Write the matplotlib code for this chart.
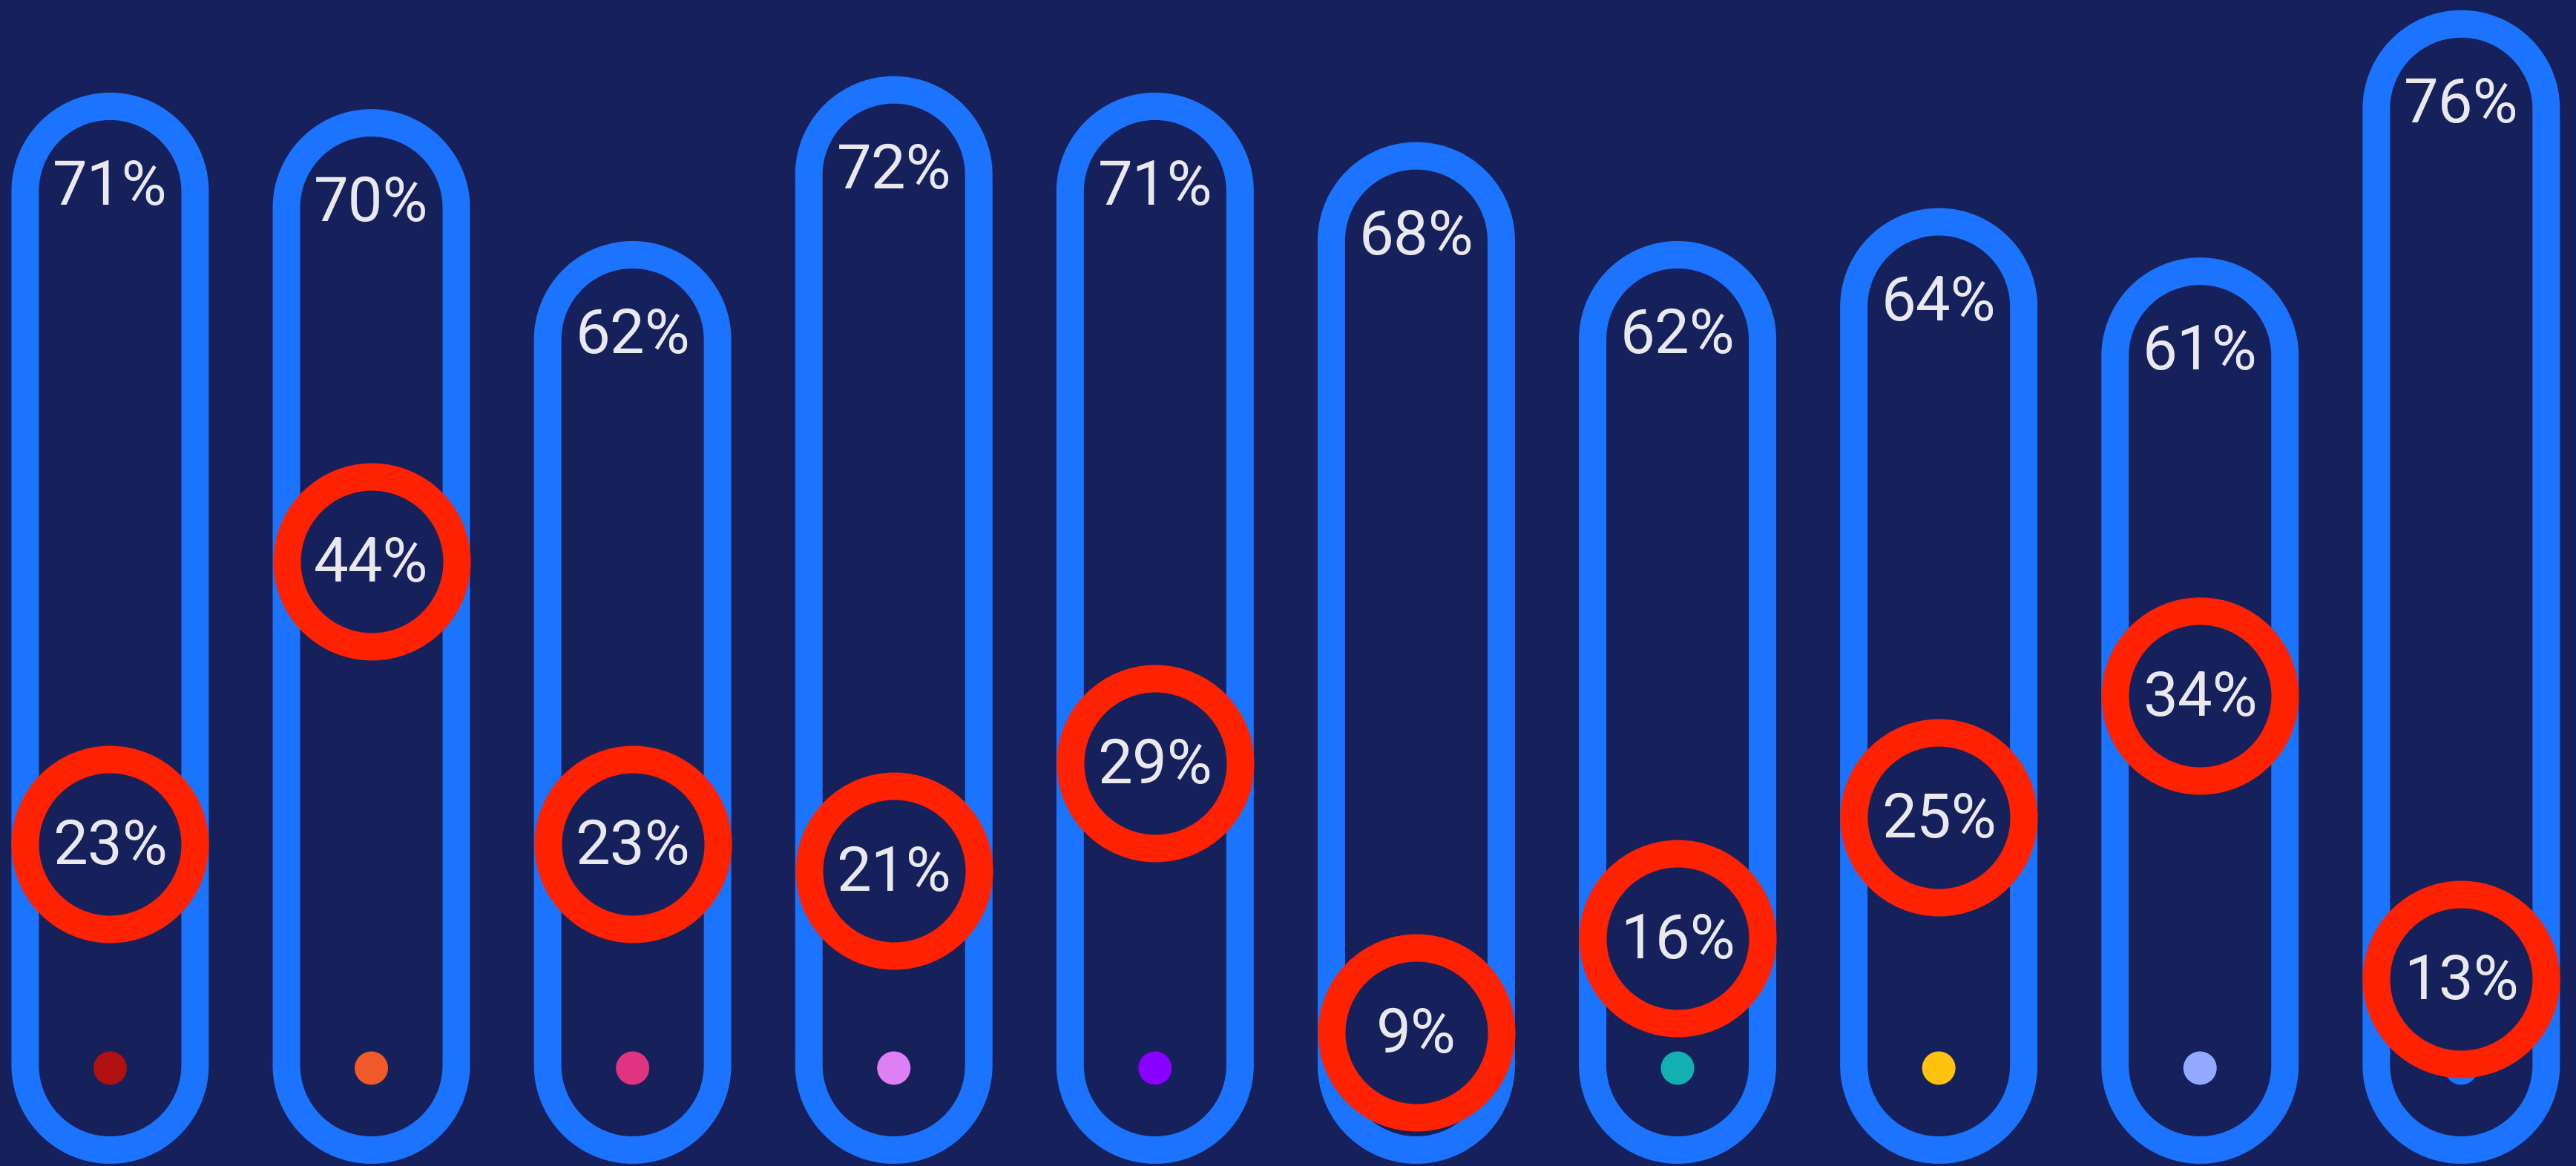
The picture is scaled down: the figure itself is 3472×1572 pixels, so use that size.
import matplotlib
matplotlib.use("Agg")
import matplotlib.pyplot as plt
from matplotlib.path import Path
from matplotlib.patches import PathPatch
import numpy as np

# ---- data ----
top_values = [71, 70, 62, 72, 71, 68, 62, 64, 61, 76]
marker_values = [23, 44, 23, 21, 29, 9, 16, 25, 34, 13]
dot_colors = ["#B01010", "#F05A28", "#E03482", "#DD7FF5", "#8800FF",
              "#2E9E5B", "#12B0B0", "#FFC30F", "#93A8FF", "#1E74FD"]

# ---- style ----
BG = "#16205A"
BLUE = "#1C73FE"
RED = "#FF2200"
TXT = "#E8E8EE"
FONT = "Roboto"

W, H = 3472, 1572
DPI = 100
PT = 72.0 / DPI  # points per pixel

fig = plt.figure(figsize=(W / DPI, H / DPI), dpi=DPI, facecolor=BG)
ax = fig.add_axes([0, 0, 1, 1])
ax.set_xlim(-0.4215, 9.4392)
ax.set_ylim(6.74, 77.45)
ax2 = ax.twinx()
ax2.set_ylim(-0.903, 85.66)
for a in (ax, ax2):
    a.axis("off")

xl = ax.get_xlim()
yl = ax.get_ylim()
ux = W / (xl[1] - xl[0])
uy = H / (yl[1] - yl[0])

R_px = 114.5          # centerline radius of pills / rings
LW_px = 37            # stroke width
rx = R_px / ux
ry = R_px / uy
base_c = yl[0] + 136 / uy   # centre of the bottom arc
dot_y = yl[0] + 132 / uy

idx = np.arange(len(top_values))

for i, v in zip(idx, top_values):
    yt = v - ry
    verts = [(i - rx, base_c), (i - rx, yt)]
    for t in np.linspace(np.pi, 0, 90):
        verts.append((i + rx * np.cos(t), yt + ry * np.sin(t)))
    verts.append((i + rx, base_c))
    for t in np.linspace(0, -np.pi, 90):
        verts.append((i + rx * np.cos(t), base_c + ry * np.sin(t)))
    verts.append((i - rx, base_c))
    codes = [Path.MOVETO] + [Path.LINETO] * (len(verts) - 2) + [Path.CLOSEPOLY]
    ax.add_patch(PathPatch(Path(verts, codes), facecolor="none", edgecolor=BLUE,
                           lw=LW_px * PT, joinstyle="round", clip_on=False, zorder=1))
    ax.annotate(f"{v}%", (i, v), xytext=(0, -132.5 * PT), textcoords="offset points",
                ha="center", va="baseline", fontsize=60, color=TXT, family=FONT, zorder=5)

ax.scatter(idx, [dot_y] * len(idx), s=(45 * PT) ** 2, c=dot_colors,
           linewidths=0, zorder=2, clip_on=False)

ax2.scatter(idx, marker_values, s=(2 * R_px * PT) ** 2, facecolor=BG, edgecolor=RED,
            linewidths=LW_px * PT, zorder=3, clip_on=False)
for i, v in zip(idx, marker_values):
    ax2.annotate(f"{v}%", (i, v), xytext=(0, -27 * PT), textcoords="offset points",
                 ha="center", va="baseline", fontsize=60, color=TXT, family=FONT, zorder=5)

fig.savefig("out.png", dpi=DPI, facecolor=BG)
